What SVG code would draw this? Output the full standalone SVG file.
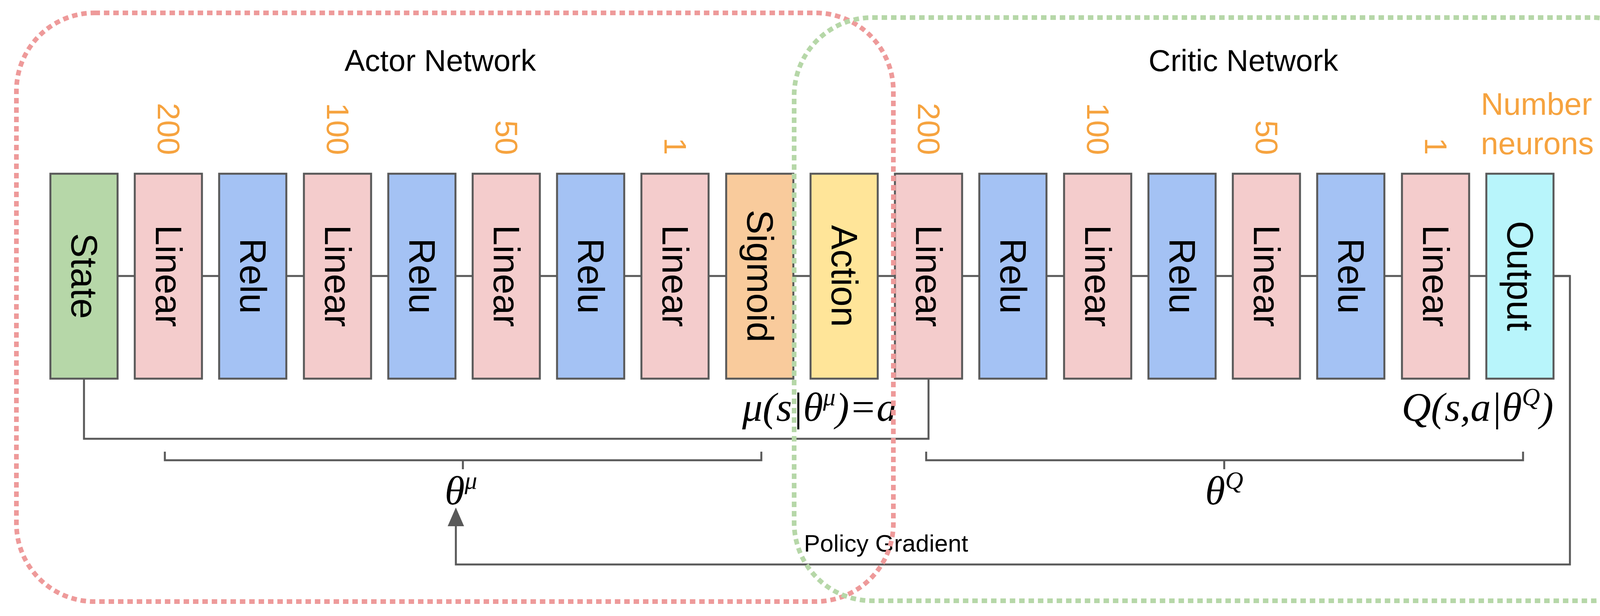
<svg xmlns="http://www.w3.org/2000/svg" width="4301" height="1578" viewBox="0 0 4301 1578">
<style>
.b{stroke:#595959;stroke-width:5}
.bl{font-family:"Liberation Sans",Arial,sans-serif;font-size:94px;fill:#000;text-anchor:middle;dominant-baseline:central}
.n{font-family:"Liberation Sans",Arial,sans-serif;font-size:80px;fill:#f6a33f;text-anchor:end;dominant-baseline:central}
.t{font-family:"Liberation Sans",Arial,sans-serif;font-size:78px;fill:#000;text-anchor:middle}
.m{font-family:"Liberation Serif","Times New Roman",serif;font-style:italic;font-size:104px;fill:#000}
.c{fill:none;stroke:#595959;stroke-width:5}
.L{fill:#f4cccc}.R{fill:#a4c2f4}
</style>
<g id="connectors">
<line class="c" x1="215" y1="707" x2="4019" y2="707"/>
<polyline class="c" points="215,970 215,1124 2377,1124 2377,970"/>
<polyline class="c" points="3975,707 4019,707 4019,1446 1167,1446 1167,1345"/>
<path d="M1167,1300 L1146,1348 L1188,1348 z" fill="#595959"/>
<path class="c" d="M422,1157 V1179 H1949 V1157 M1185,1179 V1202"/>
<path class="c" d="M2371,1157 V1179 H3899 V1157 M3134,1179 V1202"/>
</g>
<g id="state"><rect class="b" x="129" y="445" width="172" height="525" fill="#b6d7a8"/><text class="bl" transform="translate(215,707) rotate(90)">State</text></g>
<g id="a_lin1"><rect class="b L" x="345" y="445" width="172" height="525"/><text class="bl" transform="translate(431,707) rotate(90)">Linear</text></g>
<g id="a_relu1"><rect class="b R" x="561" y="445" width="172" height="525"/><text class="bl" transform="translate(647,707) rotate(90)">Relu</text></g>
<g id="a_lin2"><rect class="b L" x="778" y="445" width="172" height="525"/><text class="bl" transform="translate(864,707) rotate(90)">Linear</text></g>
<g id="a_relu2"><rect class="b R" x="994" y="445" width="172" height="525"/><text class="bl" transform="translate(1080,707) rotate(90)">Relu</text></g>
<g id="a_lin3"><rect class="b L" x="1210" y="445" width="172" height="525"/><text class="bl" transform="translate(1296,707) rotate(90)">Linear</text></g>
<g id="a_relu3"><rect class="b R" x="1426" y="445" width="172" height="525"/><text class="bl" transform="translate(1512,707) rotate(90)">Relu</text></g>
<g id="a_lin4"><rect class="b L" x="1642" y="445" width="172" height="525"/><text class="bl" transform="translate(1728,707) rotate(90)">Linear</text></g>
<g id="sigmoid"><rect class="b" x="1859" y="445" width="172" height="525" fill="#f9cb9c"/><text class="bl" transform="translate(1945,707) rotate(90)">Sigmoid</text></g>
<g id="action"><rect class="b" x="2075" y="445" width="172" height="525" fill="#ffe599"/><text class="bl" transform="translate(2161,707) rotate(90)">Action</text></g>
<g id="c_lin1"><rect class="b L" x="2291" y="445" width="172" height="525"/><text class="bl" transform="translate(2377,707) rotate(90)">Linear</text></g>
<g id="c_relu1"><rect class="b R" x="2507" y="445" width="172" height="525"/><text class="bl" transform="translate(2593,707) rotate(90)">Relu</text></g>
<g id="c_lin2"><rect class="b L" x="2724" y="445" width="172" height="525"/><text class="bl" transform="translate(2810,707) rotate(90)">Linear</text></g>
<g id="c_relu2"><rect class="b R" x="2940" y="445" width="172" height="525"/><text class="bl" transform="translate(3026,707) rotate(90)">Relu</text></g>
<g id="c_lin3"><rect class="b L" x="3156" y="445" width="172" height="525"/><text class="bl" transform="translate(3242,707) rotate(90)">Linear</text></g>
<g id="c_relu3"><rect class="b R" x="3372" y="445" width="172" height="525"/><text class="bl" transform="translate(3458,707) rotate(90)">Relu</text></g>
<g id="c_lin4"><rect class="b L" x="3589" y="445" width="172" height="525"/><text class="bl" transform="translate(3675,707) rotate(90)">Linear</text></g>
<g id="output"><rect class="b" x="3805" y="445" width="172" height="525" fill="#b8f5fb"/><text class="bl" transform="translate(3891,707) rotate(90)">Output</text></g>
<g id="labels">
<text class="n" transform="translate(431,397) rotate(90)">200</text>
<text class="n" transform="translate(864,397) rotate(90)">100</text>
<text class="n" transform="translate(1296,397) rotate(90)">50</text>
<text class="n" transform="translate(1728,397) rotate(90)">1</text>
<text class="n" transform="translate(2377,397) rotate(90)">200</text>
<text class="n" transform="translate(2810,397) rotate(90)">100</text>
<text class="n" transform="translate(3242,397) rotate(90)">50</text>
<text class="n" transform="translate(3675,397) rotate(90)">1</text>
<text class="t" x="1127" y="182">Actor Network</text>
<text class="t" x="3183" y="182">Critic Network</text>
<text font-family="Liberation Sans,Arial,sans-serif" font-size="80" fill="#f6a33f" x="3791" y="294">Number of</text>
<text font-family="Liberation Sans,Arial,sans-serif" font-size="80" fill="#f6a33f" x="3791" y="395">neurons</text>
<text font-family="Liberation Sans,Arial,sans-serif" font-size="62" fill="#000" x="2058" y="1413">Policy Gradient</text>
<text class="m" x="2296" y="1078" text-anchor="end">μ(s|θ<tspan font-size="64" dy="-40">μ</tspan><tspan dy="40">)=a</tspan></text>
<text class="m" x="3977" y="1078" text-anchor="end">Q(s,a|θ<tspan font-size="64" dy="-40">Q</tspan><tspan dy="40">)</tspan></text>
<text class="m" x="1180" y="1292" text-anchor="middle">θ<tspan font-size="64" dy="-40">μ</tspan></text>
<text class="m" x="3134" y="1292" text-anchor="middle">θ<tspan font-size="64" dy="-40">Q</tspan></text>
</g>
<g id="containers" fill="none" stroke-width="12" stroke-dasharray="14 10">
<rect x="42" y="33" width="2245" height="1508" rx="200" stroke="#ee9a9a"/>
<rect x="2033" y="45" width="2242" height="1494" rx="200" stroke="#b6d7a8"/>
</g>
</svg>
